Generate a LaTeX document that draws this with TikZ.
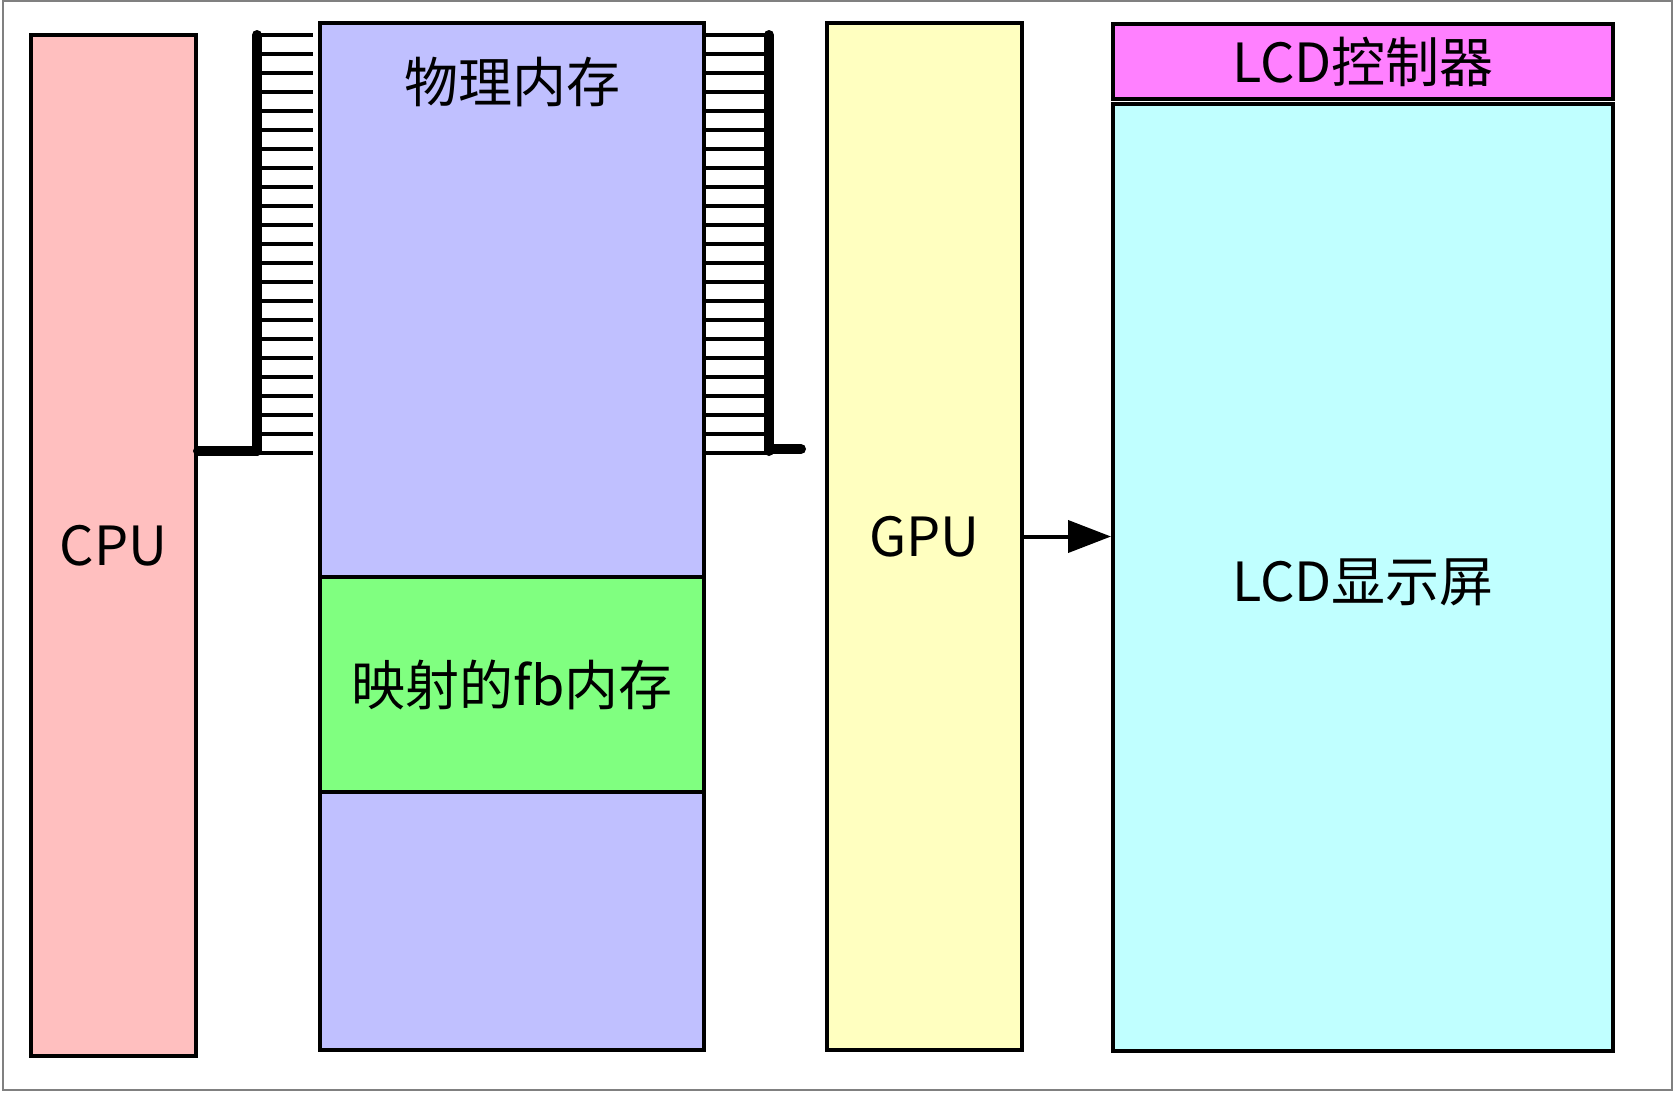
\documentclass[tikz,border=0pt]{standalone}
\usepackage{fontspec}
\setmainfont{Noto Sans CJK SC}
\usetikzlibrary{positioning,arrows.meta}

\definecolor{cpupink}{HTML}{FFBFBF}
\definecolor{memblue}{HTML}{C0C0FF}
\definecolor{fbgreen}{HTML}{80FF80}
\definecolor{gpuyellow}{HTML}{FFFFC0}
\definecolor{ctrlpink}{HTML}{FF80FF}
\definecolor{lcdcyan}{HTML}{C0FFFF}

\tikzset{
    box/.style={draw, line width=2pt, inner sep=0pt, font=\fontsize{27pt}{32pt}\selectfont},
    busline/.style={line width=2.4pt},
    busmain/.style={line width=5pt, line cap=round}
}

\begin{document}
\begin{tikzpicture}[x=0.5pt,y=-0.5pt]
    \useasboundingbox (0,0) rectangle (1675,1093);
    \draw [gray, line width=1pt] (3,1) rectangle (1672,1090);
    % boxes
    \node [box, fill=cpupink, minimum width=82.5pt, minimum height=510.5pt] (cpu) at (113.5,545.5) {CPU};
    \node [box, fill=memblue, minimum width=192pt, minimum height=513.5pt] (mem) at (512,536.5) {};
    \node [box, fill=fbgreen, minimum width=192pt, minimum height=107.5pt] (fb) at (512,684.5) {映射的fb内存};
    \node [font=\fontsize{27pt}{32pt}\selectfont, below=18pt of mem.north, inner sep=0pt] (memtext) {物理内存};
    \node [box, fill=gpuyellow, minimum width=97.5pt, minimum height=513.5pt] (gpu) at (924.5,536.5) {GPU};
    \node [box, fill=ctrlpink, minimum width=250pt, minimum height=37.5pt] (ctrl) at (1363,61.5) {LCD控制器};
    \node [box, fill=lcdcyan, minimum width=250pt, minimum height=473.5pt] (lcd) at (1363,577.5) {};
    \node [font=\fontsize{27pt}{32pt}\selectfont, inner sep=0pt] (lcdtext) at (1363,582) {LCD显示屏};
    % bus between cpu and memory
    \foreach \i in {0,...,22}
    \draw [busline] (257,35+19*\i) -- (313,35+19*\i);
    \draw [busmain] (257,35) -- (257,451);
    \draw [busmain] (cpu.east |- 0,451) -- (257,451);
    % bus on the right of memory
    \foreach \i in {0,...,22}
    \draw [busline] (mem.east |- 0,35+19*\i) -- (767,35+19*\i);
    \draw [busmain] (769,35) -- (769,451);
    \draw [busmain] (769,449) -- (801,449);
    % gpu to lcd
    \draw [line width=2pt, -{Triangle[length=21.5pt,width=16pt]}] (gpu.east) -- (gpu.east -| lcd.west);
\end{tikzpicture}
\end{document}
